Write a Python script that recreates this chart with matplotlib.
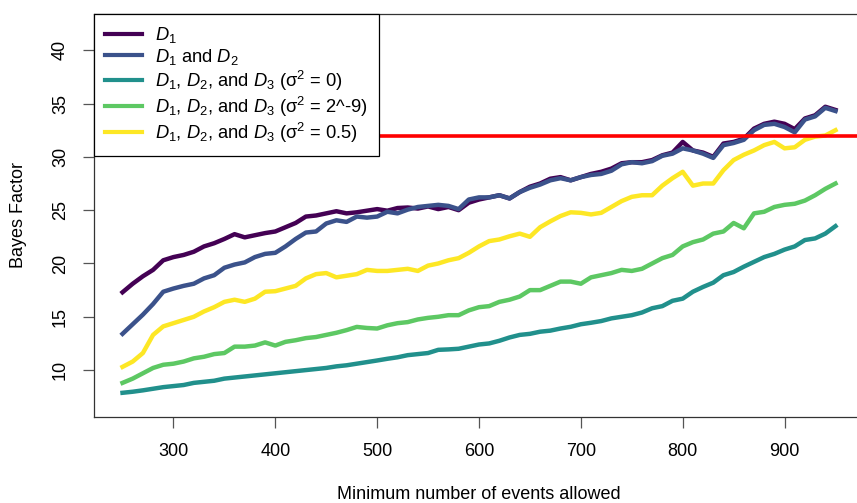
import numpy as np
import matplotlib
matplotlib.use("Agg")
import matplotlib.pyplot as plt

plt.rcParams['font.family'] = ['Liberation Sans', 'DejaVu Sans']
plt.rcParams['mathtext.fontset'] = 'custom'
plt.rcParams['mathtext.rm'] = 'Liberation Sans'
plt.rcParams['mathtext.it'] = 'Liberation Sans:italic'

# minimum number of events allowed
events = np.arange(250, 951, 10)

bf_d1 = [17.3, 18.1, 18.8, 19.4, 20.3, 20.6, 20.8, 21.1, 21.6, 21.9,
         22.3, 22.75, 22.45, 22.65, 22.85, 23.0, 23.4, 23.8, 24.4, 24.5,
         24.7, 24.9, 24.7, 24.8, 24.95, 25.1, 24.95, 25.2, 25.25, 25.15,
         25.35, 25.1, 25.3, 25.0, 25.7, 26.0, 26.2, 26.4, 26.1, 26.7,
         27.2, 27.5, 27.95, 28.1, 27.8, 28.1, 28.4, 28.6, 28.9, 29.4,
         29.5, 29.5, 29.7, 30.15, 30.4, 31.4, 30.6, 30.4, 30.0, 31.25,
         31.4, 31.7, 32.65, 33.1, 33.3, 33.1, 32.6, 33.6, 33.9, 34.7, 34.4]

bf_d12 = [13.4, 14.3, 15.2, 16.2, 17.35, 17.65, 17.9, 18.1, 18.6, 18.9,
          19.6, 19.9, 20.1, 20.6, 20.9, 21.0, 21.6, 22.3, 22.9, 23.0,
          23.75, 24.05, 23.9, 24.4, 24.3, 24.4, 24.85, 24.7, 25.05, 25.3,
          25.4, 25.5, 25.4, 25.1, 26.0, 26.2, 26.2, 26.4, 26.1, 26.7,
          27.1, 27.4, 27.8, 28.0, 27.8, 28.1, 28.3, 28.4, 28.7, 29.3,
          29.5, 29.4, 29.6, 30.1, 30.3, 30.8, 30.6, 30.3, 29.9, 31.1,
          31.3, 31.6, 32.5, 33.0, 33.1, 32.8, 32.3, 33.5, 33.8, 34.6, 34.3]

bf_s0 = [7.87, 7.97, 8.1, 8.25, 8.4, 8.5, 8.6, 8.8, 8.9, 9.0,
         9.2, 9.3, 9.4, 9.5, 9.6, 9.7, 9.8, 9.9, 10.0, 10.1,
         10.2, 10.35, 10.45, 10.6, 10.75, 10.9, 11.06, 11.2, 11.4, 11.5,
         11.6, 11.9, 11.94, 12.0, 12.2, 12.4, 12.5, 12.75, 13.06, 13.3,
         13.4, 13.6, 13.7, 13.9, 14.06, 14.3, 14.44, 14.6, 14.85, 15.0,
         15.15, 15.4, 15.8, 16.0, 16.5, 16.7, 17.35, 17.8, 18.2, 18.9,
         19.2, 19.7, 20.15, 20.6, 20.9, 21.3, 21.6, 22.2, 22.35, 22.8, 23.5]

bf_s9 = [8.8, 9.2, 9.7, 10.2, 10.5, 10.6, 10.8, 11.1, 11.25, 11.5,
         11.6, 12.2, 12.2, 12.3, 12.6, 12.3, 12.65, 12.8, 13.0, 13.1,
         13.3, 13.5, 13.75, 14.05, 13.95, 13.9, 14.2, 14.4, 14.5, 14.75,
         14.9, 15.0, 15.15, 15.15, 15.6, 15.9, 16.0, 16.4, 16.6, 16.9,
         17.5, 17.5, 17.9, 18.3, 18.3, 18.1, 18.7, 18.9, 19.1, 19.4,
         19.3, 19.5, 20.0, 20.5, 20.8, 21.6, 22.0, 22.25, 22.8, 23.0,
         23.8, 23.3, 24.7, 24.85, 25.3, 25.5, 25.6, 25.9, 26.4, 27.0, 27.5]

bf_s05 = [10.3, 10.8, 11.6, 13.3, 14.1, 14.4, 14.7, 15.0, 15.5, 15.9,
          16.4, 16.6, 16.4, 16.7, 17.35, 17.4, 17.65, 17.9, 18.6, 19.0,
          19.1, 18.7, 18.85, 19.0, 19.4, 19.3, 19.3, 19.4, 19.5, 19.3,
          19.8, 20.0, 20.3, 20.5, 21.0, 21.6, 22.1, 22.25, 22.55, 22.8,
          22.5, 23.4, 23.95, 24.45, 24.8, 24.75, 24.6, 24.75, 25.3, 25.85,
          26.25, 26.4, 26.4, 27.3, 28.0, 28.6, 27.3, 27.5, 27.5, 28.75,
          29.7, 30.2, 30.6, 31.1, 31.4, 30.8, 30.9, 31.6, 31.9, 32.0, 32.5]

threshold = 32

labels = [r"$D_1$",
          r"$D_1$ and $D_2$",
          r"$D_1$, $D_2$, and $D_3$ (σ$^2$ = 0)",
          r"$D_1$, $D_2$, and $D_3$ (σ$^2$ = 2^-9)",
          r"$D_1$, $D_2$, and $D_3$ (σ$^2$ = 0.5)"]
colors = ["#440154", "#3B528B", "#21908C", "#5DC863", "#FDE725"]
series = [bf_d1, bf_d12, bf_s0, bf_s9, bf_s05]

fig = plt.figure(figsize=(8.57, 5.03), dpi=100)
ax = fig.add_axes([94 / 857, 1 - 417 / 503, 770 / 857, 403 / 503])

for vals, col, lab in zip(series, colors, labels):
    ax.plot(events, vals, color=col, lw=3.2, label=lab, solid_joinstyle='round')

ax.axhline(threshold, color="red", lw=2.6, zorder=3)

ax.set_xlim(222, 978)
ax.set_ylim(5.6, 43.4)
ax.set_xticks([300, 400, 500, 600, 700, 800, 900])
ax.set_yticks([10, 15, 20, 25, 30, 35, 40])

for sp in ax.spines.values():
    sp.set_color("#333333")
    sp.set_linewidth(0.9)
ax.tick_params(axis='both', direction='out', length=8, width=0.9,
               color="#555555", labelsize=13, labelcolor='black')
ax.tick_params(axis='x', pad=11)
ax.tick_params(axis='y', pad=10)
for t in ax.get_yticklabels():
    t.set_rotation(90)
    t.set_va('center')

fig.text(479 / 857, 1 - 499 / 503, "Minimum number of events allowed",
         ha='center', va='baseline', fontsize=13)
fig.text(19 / 857, 1 - 215 / 503, "Bayes Factor", rotation=90,
         ha='center', va='center', fontsize=13)

leg = ax.legend(loc='upper left', bbox_to_anchor=(0, 1), borderaxespad=0,
                fontsize=13.2, fancybox=False, framealpha=1, edgecolor='black',
                handlelength=2.0, handletextpad=0.75, labelspacing=0.1,
                borderpad=0.6)
leg.get_frame().set_linewidth(0.9)
leg.set_zorder(5)
for h in leg.get_lines():
    h.set_linewidth(3.0)

fig.savefig("out.png", dpi=100)
